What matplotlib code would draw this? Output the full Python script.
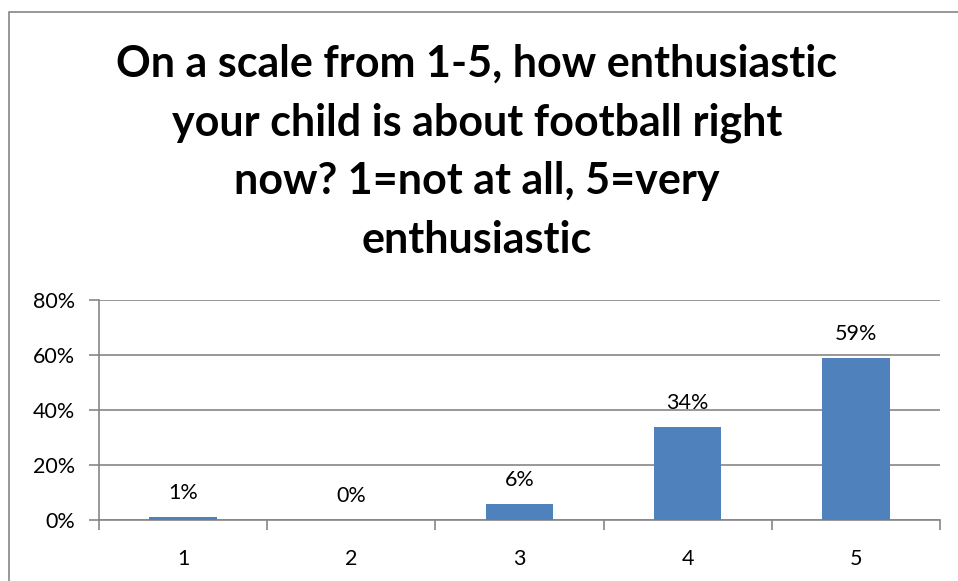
import matplotlib
matplotlib.use("Agg")
import matplotlib.pyplot as plt
from matplotlib.patches import Rectangle
from matplotlib.ticker import FuncFormatter

categories = ["1", "2", "3", "4", "5"]
values = [1, 0, 6, 34, 59]
labels = ["1%", "0%", "6%", "34%", "59%"]
yticks = [0, 20, 40, 60, 80]
title = "On a scale from 1-5, how enthusiastic\nyour child is about football right\nnow? 1=not at all, 5=very\nenthusiastic"

plt.rcParams['font.family'] = ['Lato', 'DejaVu Sans']
W, H = 958, 581
fig = plt.figure(figsize=(W/100, H/100), dpi=100)
fig.patch.set_facecolor("white")

# outer chart border
fig.patches.append(Rectangle((9/W, -0.05), 1.1, 1 - 12/H + 0.05, transform=fig.transFigure,
                             fill=False, edgecolor="#868686", linewidth=1.2, zorder=0))

ax = fig.add_axes([99/W, 1 - 520/H, (940-99)/W, (520-300)/H])
x = list(range(len(categories)))
ax.bar(x, values, width=0.4, color="#4F81BD", zorder=3)
for xi, v, lab in zip(x, values, labels):
    ax.annotate(lab, (xi, v), xytext=(0, 10), textcoords="offset points",
                ha="center", va="bottom", fontsize=15.5, color="#000000")

ax.set_xlim(-0.5, 4.5)
ax.set_ylim(0, 80)
ax.set_yticks(yticks)
ax.yaxis.set_major_formatter(FuncFormatter(lambda v, p: f"{int(v)}%"))
ax.set_xticks(x)
ax.set_xticklabels(categories)
ax.set_xticks([i - 0.5 for i in range(len(categories) + 1)], minor=True)
ax.tick_params(axis="x", which="major", length=0, pad=21, labelsize=15.5)
ax.tick_params(axis="x", which="minor", length=7, color="#868686", width=1.2)
ax.tick_params(axis="y", length=7, color="#868686", width=1.2, labelsize=15.5, pad=10)
ax.grid(axis="y", color="#868686", linewidth=1.2, zorder=0)
for s in ["top", "right"]:
    ax.spines[s].set_visible(False)
for s in ["left", "bottom"]:
    ax.spines[s].set_color("#868686")
    ax.spines[s].set_linewidth(1.2)

fig.text(477/W, 1 - 152/H, title, ha="center", va="center", fontsize=31,
         fontweight="bold", linespacing=1.56, transform=fig.transFigure)

fig.savefig("out.png", dpi=100, facecolor="white")
